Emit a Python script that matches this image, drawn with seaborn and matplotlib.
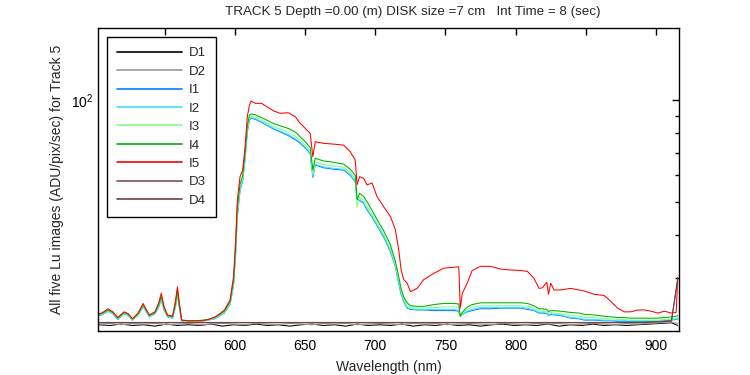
import matplotlib
matplotlib.use("Agg")
import matplotlib.pyplot as plt
import matplotlib.ticker as mticker
import seaborn as sns
import pandas as pd

# wavelength grid of the Lu image curves (nm)
wl = [502.5, 505, 509.5, 513, 516.5, 521, 524, 527, 531, 534.5, 536.5, 539, 543, 545.5,
      547.5, 549.5, 552, 555.5, 557.5, 559, 560.5, 562, 567, 572, 577, 581, 585, 588,
      592.5, 596.5, 599, 600.5, 601.7, 603.6, 605.5, 607.2, 608.8, 610.3, 611.5, 614.5,
      619, 622.7, 627.4, 632.2, 638, 643, 646.5, 650, 653.6, 655.5, 657.2, 663, 670,
      677.4, 682.2, 685.7, 687, 688.8, 691.7, 694.1, 697.7, 701.2, 706, 710.8, 714.3,
      716.7, 718.4, 720.3, 722.7, 725, 729.8, 734.5, 741.7, 748.8, 756, 759.5, 760.5,
      762, 765.5, 769, 775, 782, 789.3, 796.5, 803.6, 808.4, 813, 816.7, 819, 822.2,
      823.4, 825, 827.4, 832, 839.3, 845.3, 849, 856, 863, 868, 872.7, 877.4, 882, 887,
      892, 896.5, 901.3, 906, 911, 914.4, 915.5]

i1 = [23.3, 23.3, 23.9, 23.5, 22.6, 23.5, 23.2, 22.5, 23.3, 24.6, 24.0, 23.0, 23.5, 24.5,
      25.9, 24.1, 23.0, 22.8, 24.5, 26.8, 24.3, 22.4, 22.3, 22.3, 22.4, 22.5, 22.7, 23.0,
      23.6, 25.0, 28.5, 35.5, 45.5, 54.0, 58.0, 67.0, 80.5, 87.3, 88.4, 87.8,
      86.0, 84.3, 82.2, 80.6, 78.6, 76.4, 74.6, 72.3, 69.5, 59.2, 64.4, 63.2, 62.6,
      62.2, 60.0, 57.5, 51.3, 50.6, 49.7, 47.5, 45.2, 42.7, 39.5, 35.8, 32.3,
      28.8, 26.8, 25.5, 24.4, 24.2, 24.1, 24.1, 24.0, 24.0, 24.0, 23.9, 23.1,
      23.4, 23.8, 24.0, 24.3, 24.3, 24.4, 24.4, 24.4, 24.2, 24.0, 23.6, 23.6, 23.5,
      23.2, 23.4, 23.3, 23.2, 22.8, 22.7, 22.5, 22.5, 22.4, 22.4, 22.3, 22.3, 22.3, 22.3,
      22.3, 22.3, 22.3, 22.4, 22.5, 22.6, 22.7]

i2 = [23.3, 23.3, 23.9, 23.5, 22.6, 23.5, 23.2, 22.5, 23.3, 24.6, 24.0, 23.0, 23.5, 24.6,
      26.0, 24.1, 23.0, 22.8, 24.6, 26.9, 24.4, 22.4, 22.3, 22.3, 22.4, 22.5, 22.7, 23.0,
      23.6, 25.1, 28.7, 35.8, 46.0, 54.4, 58.3, 67.5, 81.0, 87.8, 88.8, 88.2,
      86.4, 84.8, 82.7, 81.1, 79.2, 77.0, 75.1, 72.8, 69.9, 59.7, 64.8, 63.6, 63.0,
      62.6, 60.4, 57.9, 51.0, 51.0, 50.0, 47.9, 45.5, 43.0, 39.8, 36.1, 32.5,
      29.0, 27.0, 25.6, 24.5, 24.3, 24.2, 24.2, 24.2, 24.2, 24.2, 24.1, 23.1,
      23.4, 23.9, 24.2, 24.5, 24.5, 24.5, 24.5, 24.5, 24.4, 24.1, 23.7, 23.7, 23.6,
      23.3, 23.5, 23.4, 23.3, 22.9, 22.8, 22.6, 22.6, 22.5, 22.5, 22.4, 22.4, 22.4, 22.4,
      22.4, 22.4, 22.4, 22.5, 22.6, 22.7, 22.8]

i3 = [23.4, 23.4, 24.0, 23.6, 22.7, 23.6, 23.3, 22.6, 23.4, 24.7, 24.1, 23.1, 23.6, 24.7,
      26.1, 24.2, 23.1, 22.9, 24.7, 27.1, 24.5, 22.4, 22.3, 22.3, 22.4, 22.5, 22.8, 23.1,
      23.7, 25.2, 29.0, 36.4, 46.9, 55.1, 58.9, 68.4, 82.1, 88.7, 89.6, 89.0,
      87.3, 85.7, 83.6, 82.1, 80.4, 78.2, 76.1, 73.7, 70.9, 60.6, 65.8, 64.6, 64.0,
      63.4, 61.1, 58.6, 48.5, 51.8, 50.7, 48.7, 46.1, 43.5, 40.3, 36.6, 32.8,
      29.4, 27.3, 25.9, 24.8, 24.5, 24.4, 24.4, 24.5, 24.6, 24.6, 24.5, 23.1,
      23.5, 24.2, 24.5, 24.8, 24.8, 24.8, 24.8, 24.8, 24.7, 24.4, 23.9, 23.9, 23.8,
      23.5, 23.7, 23.6, 23.5, 23.2, 23.1, 22.9, 22.9, 22.7, 22.7, 22.6, 22.6, 22.5, 22.5,
      22.5, 22.5, 22.5, 22.6, 22.7, 22.8, 22.9]

i4 = [23.4, 23.5, 24.1, 23.7, 22.8, 23.7, 23.4, 22.7, 23.5, 24.9, 24.2, 23.2, 23.7, 24.9,
      26.4, 24.4, 23.2, 23.0, 25.0, 27.4, 24.7, 22.5, 22.4, 22.4, 22.5, 22.6, 22.9, 23.2,
      23.9, 25.5, 29.5, 37.5, 48.5, 56.5, 60.0, 70.0, 84.0, 90.3, 91.0, 90.5,
      88.8, 87.3, 85.3, 84.0, 82.5, 80.5, 78.0, 75.5, 72.5, 62.3, 67.4, 66.2, 65.6,
      64.8, 62.5, 60.0, 50.8, 53.2, 52.0, 50.2, 47.3, 44.5, 41.2, 37.5, 33.5,
      30.2, 27.8, 26.3, 25.3, 24.8, 24.7, 24.7, 25.0, 25.2, 25.2, 25.1, 23.1,
      23.7, 24.6, 25.0, 25.3, 25.3, 25.3, 25.3, 25.3, 25.2, 24.8, 24.3, 24.3, 24.2,
      23.8, 24.0, 24.0, 23.9, 23.7, 23.6, 23.4, 23.3, 23.1, 23.0, 22.9, 22.9, 22.8, 22.8,
      22.8, 22.8, 22.8, 22.9, 23.0, 23.1, 23.2]

i5 = [23.5, 23.6, 24.3, 23.8, 22.9, 23.8, 23.5, 22.7, 23.6, 25.2, 24.3, 23.3, 23.8, 25.2,
      27.0, 24.6, 23.3, 23.1, 25.5, 28.2, 25.0, 22.5, 22.4, 22.4, 22.4, 22.6, 22.9, 23.3,
      24.1, 25.8, 30.2, 38.8, 50.8, 59.5, 62.3, 72.9, 89.3, 96.7, 99.3, 97.8,
      97.8, 95.6, 93.0, 91.4, 91.8, 89.3, 85.4, 82.6, 79.8, 68.1, 75.4, 74.6, 74.2,
      73.7, 70.4, 66.6, 56.3, 59.5, 58.8, 56.3, 57.0, 52.0, 48.5, 45.4, 41.5,
      36.2, 31.6, 29.6, 28.9, 27.3, 27.9, 29.6, 30.9, 32.0, 32.2, 32.3, 24.4,
      27.0, 28.9, 31.5, 32.4, 32.4, 31.8, 31.6, 31.5, 31.3, 29.9, 27.9, 28.0, 29.1,
      26.8, 28.9, 27.6, 27.6, 27.9, 27.6, 27.4, 26.8, 26.6, 25.5, 24.4, 23.8, 23.8, 24.1,
      24.1, 23.9, 23.6, 23.9, 23.6, 23.7, 30.0]

# dark frames on a coarser grid
wl_dark = [503, 511, 519, 527, 535, 543, 551, 559, 567, 575, 583, 591, 599, 607, 615, 623,
           631, 639, 647, 655, 663, 671, 679, 687, 695, 703, 711, 719, 727, 735, 743, 751,
           759, 767, 775, 783, 791, 799, 807, 815, 823, 831, 839, 847, 855, 863, 871, 879,
           887, 895, 903, 911, 915.5]
d1 = [21.8, 21.7, 21.9, 21.7, 21.8, 21.6, 21.9, 21.7, 21.8, 21.7, 21.9, 21.6, 21.8, 21.7,
      21.9, 21.7, 21.8, 21.6, 21.8, 21.9, 21.7, 21.8, 21.6, 21.9, 21.7, 21.8, 21.7, 21.9,
      21.6, 21.8, 21.7, 21.9, 21.7, 21.8, 21.6, 21.8, 21.9, 21.7, 21.8, 21.7, 21.9, 21.6,
      21.8, 21.7, 21.9, 21.7, 21.8, 21.7, 21.8, 21.9, 22.0, 22.1, 21.7]
d2 = [21.9, 22.0, 21.8, 22.0, 21.9, 22.0, 21.8, 21.9, 22.0, 21.8, 21.9, 22.0, 21.9, 21.8,
      22.0, 21.9, 21.8, 22.0, 21.9, 21.8, 22.0, 21.9, 22.0, 21.8, 21.9, 22.0, 21.9, 21.8,
      22.0, 21.9, 22.0, 21.8, 21.9, 22.0, 21.9, 21.8, 22.0, 21.9, 21.8, 22.0, 21.9, 22.0,
      21.8, 21.9, 22.0, 21.9, 21.8, 22.0, 21.9, 22.0, 22.1, 22.2, 22.0]
d3 = [22.15, 22.15, 22.15, 22.15, 22.15, 22.15, 22.15, 22.15, 22.15, 22.15, 22.15, 22.15,
      22.15, 22.15, 22.15, 22.15, 22.15, 22.15, 22.15, 22.15, 22.15, 22.15, 22.15, 22.15,
      22.15, 22.15, 22.15, 22.15, 22.15, 22.15, 22.15, 22.15, 22.15, 22.15, 22.15, 22.15,
      22.15, 22.15, 22.15, 22.15, 22.15, 22.15, 22.15, 22.15, 22.15, 22.15, 22.15, 22.15,
      22.15, 22.2, 22.3, 22.4, 29.5]
d4 = [22.1, 22.1, 22.1, 22.1, 22.1, 22.1, 22.1, 22.1, 22.1, 22.1, 22.1, 22.1, 22.1, 22.1,
      22.1, 22.1, 22.1, 22.1, 22.1, 22.1, 22.1, 22.1, 22.1, 22.1, 22.1, 22.1, 22.1, 22.1,
      22.1, 22.1, 22.1, 22.1, 22.1, 22.1, 22.1, 22.1, 22.1, 22.1, 22.1, 22.1, 22.1, 22.1,
      22.1, 22.1, 22.1, 22.1, 22.1, 22.1, 22.1, 22.15, 22.25, 22.35, 30.0]

names = ["D1", "D2", "I1", "I2", "I3", "I4", "I5", "D3", "D4"]
colors = ["#000000", "#999999", "#0080ff", "#40e0ff", "#80ff80",
          "#00b000", "#ff0000", "#805050", "#704040"]

frames = []
for name, xs, ys in [("D1", wl_dark, d1), ("D2", wl_dark, d2), ("I1", wl, i1),
                     ("I2", wl, i2), ("I3", wl, i3), ("I4", wl, i4), ("I5", wl, i5),
                     ("D3", wl_dark, d3), ("D4", wl_dark, d4)]:
    frames.append(pd.DataFrame({"wl": xs, "val": ys, "series": name}))
df = pd.concat(frames, ignore_index=True)

sns.set_style("white")
plt.rcParams["font.family"] = ["Liberation Sans", "DejaVu Sans"]
plt.rcParams["mathtext.fontset"] = "custom"
plt.rcParams["mathtext.rm"] = "Liberation Sans"

fig = plt.figure(figsize=(7.5, 3.75), dpi=100)
ax = fig.add_axes([98 / 750, 1 - 331 / 375, 581 / 750, 303 / 375])

sns.lineplot(data=df, x="wl", y="val", hue="series", hue_order=names,
             palette=dict(zip(names, colors)), estimator=None, sort=False,
             linewidth=0.75, ax=ax)

ax.set_yscale("log")
ax.set_xlim(502.4, 916.4)
ax.set_ylim(20.9, 163)
ax.set_xticks([550, 600, 650, 700, 750, 800, 850, 900])
ax.yaxis.set_major_locator(mticker.FixedLocator([100]))
ax.yaxis.set_major_formatter(mticker.LogFormatterSciNotation())
ax.yaxis.set_minor_locator(mticker.FixedLocator([20, 30, 40, 50, 60, 70, 80, 90]))
ax.yaxis.set_minor_formatter(mticker.NullFormatter())
ax.tick_params(axis="both", which="both", direction="in", top=True, right=True,
               labelsize=10, colors="black")
ax.tick_params(axis="both", which="major", length=5, width=1)
ax.tick_params(axis="both", which="minor", length=3, width=1)
ax.tick_params(axis="x", which="major", pad=6)
for s in ax.spines.values():
    s.set_color("black")
    s.set_linewidth(1)

ax.set_xlabel("Wavelength (nm)", fontsize=10, labelpad=5)
ax.set_ylabel("All five Lu images (ADU/pix/sec) for Track 5", fontsize=10, labelpad=5)
fig.text(0.551, 0.968, "TRACK 5 Depth =0.00 (m) DISK size =7 cm   Int Time = 8 (sec)",
         ha="center", va="center", fontsize=9.6)

leg = ax.legend(loc="upper left", fontsize=9.5, handlelength=4.9, handletextpad=0.55,
                labelspacing=0.47, borderpad=0.75, borderaxespad=0.7, fancybox=False,
                framealpha=1, edgecolor="black")
leg.get_frame().set_linewidth(1)
for line in leg.get_lines():
    line.set_linewidth(1.2)

fig.savefig("out.png", dpi=100)
plt.close(fig)
